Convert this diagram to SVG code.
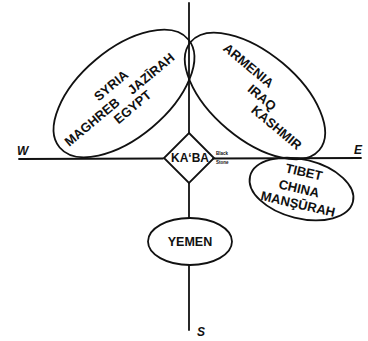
<svg xmlns="http://www.w3.org/2000/svg" width="368" height="341" viewBox="0 0 368 341">
<style>
.ln{stroke:#111;stroke-width:1.8;fill:none;stroke-linecap:round}
.sh{stroke:#111;stroke-width:1.8;fill:none}
.t{font-family:"Liberation Sans",Arial,sans-serif;font-weight:bold;font-size:13px;fill:#111;text-anchor:middle;dominant-baseline:central}
.d{font-family:"Liberation Sans",Arial,sans-serif;font-weight:bold;font-style:italic;font-size:12px;fill:#111}
.s{font-family:"Liberation Sans",Arial,sans-serif;font-weight:bold;font-size:4.5px;fill:#111}
</style>
<rect width="368" height="341" fill="#fff"/>
<g id="connectors">
<line class="ln" x1="189" y1="3" x2="189" y2="133"/>
<line class="ln" x1="189" y1="183" x2="189" y2="218"/>
<line class="ln" x1="189" y1="265" x2="189" y2="330"/>
<line class="ln" x1="19" y1="159" x2="163" y2="158.5"/>
<line class="ln" x1="213" y1="158.5" x2="361" y2="158"/>
<text class="d" x="17" y="155">W</text>
<text class="d" x="354" y="154">E</text>
<text class="d" x="197" y="336">S</text>
</g>
<g id="west">
<ellipse class="sh" cx="124" cy="93.5" rx="84" ry="44" transform="rotate(-40 124 93.5)"/>
<text class="t" x="111" y="85.5" transform="rotate(-40 111 85.5)">SYRIA</text>
<text class="t" x="92" y="122" transform="rotate(-40 92 122)">MAGHREB</text>
<text class="t" x="151" y="73.5" transform="rotate(-40 151 73.5)">JAZĪRAH</text>
<text class="t" x="132.5" y="107" transform="rotate(-40 132.5 107)">EGYPT</text>
</g>
<g id="east">
<ellipse class="sh" cx="255" cy="96" rx="84" ry="43" transform="rotate(40 255 96)"/>
<text class="t" x="248.5" y="65.5" transform="rotate(40 248.5 65.5)">ARMENIA</text>
<text class="t" x="262" y="97.5" transform="rotate(40 262 97.5)">IRAQ</text>
<text class="t" x="276.5" y="127.5" transform="rotate(40 276.5 127.5)">KASHMIR</text>
</g>
<g id="kaba">
<polygon class="sh" points="189,133 214,158 189,183 164,158"/>
<text class="t" x="190" y="158" style="font-size:12px">KA‘BA</text>
<text class="s" x="216" y="155">Black</text>
<text class="s" x="216" y="163.5">Stone</text>
</g>
<g id="tibet">
<ellipse class="sh" cx="301.5" cy="189" rx="53" ry="29.5" transform="rotate(14 301.5 189)"/>
<text class="t" x="304" y="172" transform="rotate(13 304 172)">TIBET</text>
<text class="t" x="299" y="188.5" transform="rotate(13 299 188.5)">CHINA</text>
<text class="t" x="298" y="204" transform="rotate(13 298 204)">MANŞŪRAH</text>
</g>
<g id="yemen">
<ellipse class="sh" cx="190" cy="241.5" rx="42" ry="23.5"/>
<text class="t" x="190" y="241.5" style="font-size:12.5px">YEMEN</text>
</g>
</svg>
